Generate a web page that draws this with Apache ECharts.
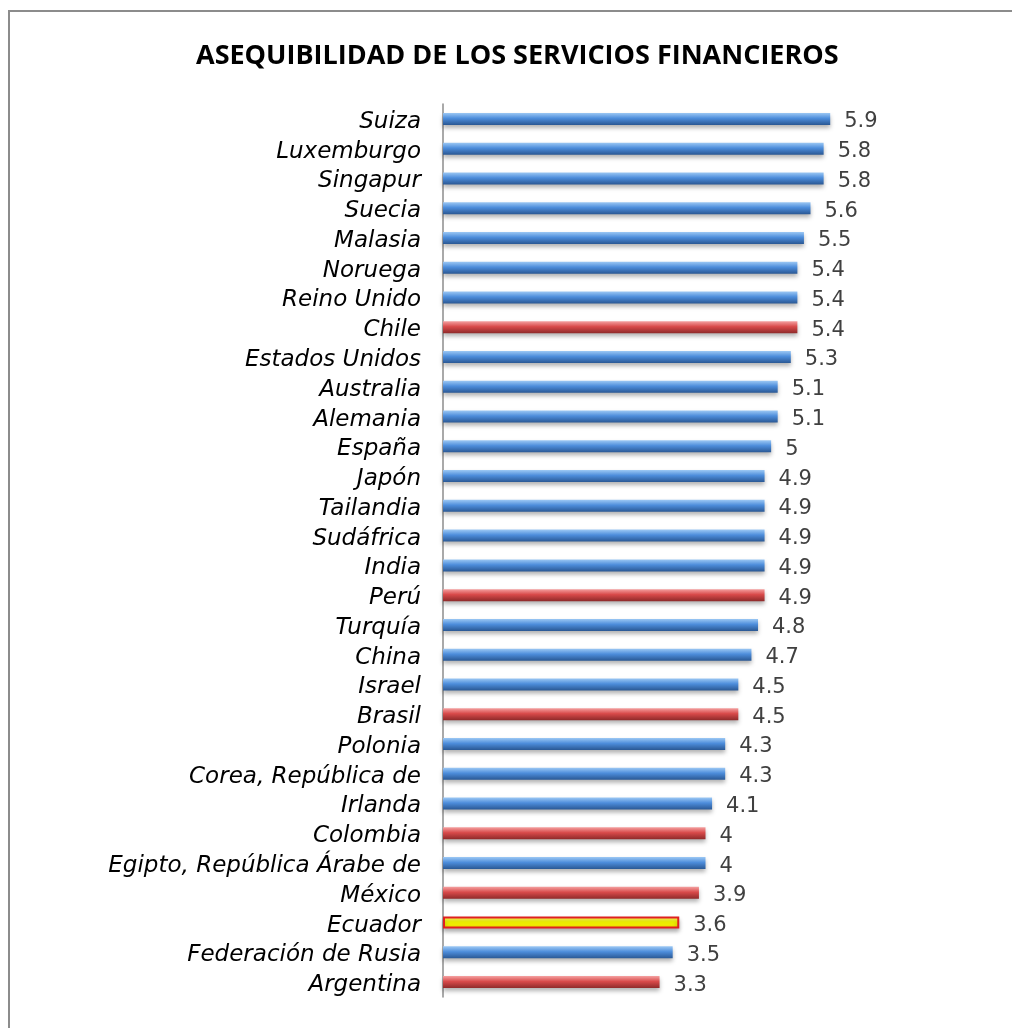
<!DOCTYPE html>
<html>
<head>
<meta charset="utf-8">
<script src="https://cdn.jsdelivr.net/npm/echarts@6/dist/echarts.min.js"></script>
<style>
  html, body { margin: 0; padding: 0; background: #fff; }
  #chart { width: 1012px; height: 1028px; }
</style>
</head>
<body>
<div id="chart"></div>
<script>
const countries = [
  "Suiza", "Luxemburgo", "Singapur", "Suecia", "Malasia", "Noruega", "Reino Unido",
  "Chile", "Estados Unidos", "Australia", "Alemania", "España", "Japón", "Tailandia",
  "Sudáfrica", "India", "Perú", "Turquía", "China", "Israel", "Brasil", "Polonia",
  "Corea, República de", "Irlanda", "Colombia", "Egipto, República Árabe de",
  "México", "Ecuador", "Federación de Rusia", "Argentina"
];
const scores = [
  5.9, 5.8, 5.8, 5.6, 5.5, 5.4, 5.4, 5.4, 5.3, 5.1, 5.1, 5, 4.9, 4.9, 4.9, 4.9,
  4.9, 4.8, 4.7, 4.5, 4.5, 4.3, 4.3, 4.1, 4, 4, 3.9, 3.6, 3.5, 3.3
];
// b = blue, r = Latin America (red), y = Ecuador
const groups = [
  "b", "b", "b", "b", "b", "b", "b", "r", "b", "b", "b", "b", "b", "b", "b", "b",
  "r", "b", "b", "b", "r", "b", "b", "b", "r", "b", "r", "y", "b", "r"
];

function grad(top, mid, bottom) {
  return new echarts.graphic.LinearGradient(0, 0, 0, 1, [
    { offset: 0, color: top },
    { offset: 0.45, color: mid },
    { offset: 1, color: bottom }
  ]);
}

const styles = {
  b: { color: grad("#9cc8f4", "#4d8ddb", "#2a5894") },
  r: { color: grad("#f4a0a0", "#d84a4a", "#8e2a2a") },
  y: { color: grad("#ffff80", "#ffff00", "#e6d800"), borderColor: "#e02020", borderWidth: 2 }
};

const chart = echarts.init(document.getElementById("chart"));

chart.setOption({
  animation: false,
  title: {
    text: "ASEQUIBILIDAD DE LOS SERVICIOS FINANCIEROS",
    left: 191,
    top: 38,
    textStyle: {
      fontFamily: "Open Sans",
      fontWeight: "bold",
      fontSize: 27,
      color: "#000"
    }
  },
  graphic: [
    {
      type: "rect",
      shape: { x: 9, y: 11, width: 1100, height: 1100 },
      style: { fill: "none", stroke: "#8c8c8c", lineWidth: 2 }
    }
  ],
  grid: { left: 443, right: 44, top: 104, bottom: 31 },
  xAxis: {
    type: "value",
    min: 0,
    max: 8,
    show: false
  },
  yAxis: {
    type: "category",
    inverse: true,
    data: countries,
    axisLine: { lineStyle: { color: "#8c8c8c", width: 1.5 } },
    axisTick: { show: false },
    axisLabel: {
      interval: 0,
      margin: 22,
      formatter: "{n|{value}}",
      rich: {
        n: {
          padding: [6, 0, 0, 0],
          fontFamily: "DejaVu Sans",
          fontStyle: "italic",
          fontSize: 23,
          color: "#000"
        }
      }
    }
  },
  series: [
    {
      type: "bar",
      barWidth: 12,
      data: scores.map((v, i) => ({
        value: v,
        itemStyle: Object.assign({
          shadowColor: "rgba(0,0,0,0.3)",
          shadowBlur: 4,
          shadowOffsetY: 3
        }, styles[groups[i]])
      })),
      label: {
        show: true,
        position: "right",
        distance: 14,
        offset: [0, 3],
        fontFamily: "DejaVu Sans",
        fontSize: 21,
        color: "#404040"
      }
    }
  ]
});
</script>
</body>
</html>
